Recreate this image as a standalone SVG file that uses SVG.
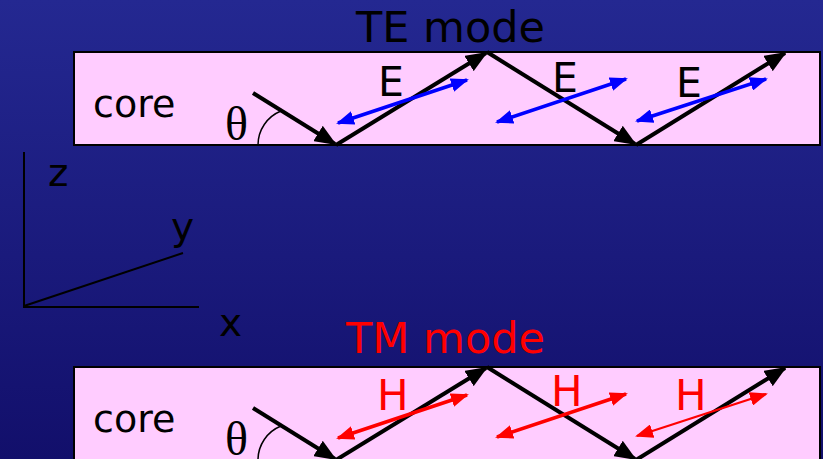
<svg xmlns="http://www.w3.org/2000/svg" width="823" height="459" viewBox="0 0 823 459">
  <defs>
    <linearGradient id="bg" x1="0" y1="0" x2="0" y2="1">
      <stop offset="0" stop-color="#242891"/>
      <stop offset="1" stop-color="#120f6b"/>
    </linearGradient>
    <marker id="ahK" markerUnits="userSpaceOnUse" markerWidth="22" markerHeight="18" viewBox="0 0 22 18" refX="20" refY="9" orient="auto">
      <path d="M0,0 L22,9 L0,18 z" fill="#000"/>
    </marker>
    <marker id="ahB" markerUnits="userSpaceOnUse" markerWidth="18" markerHeight="14" viewBox="0 0 18 14" refX="16" refY="7" orient="auto-start-reverse">
      <path d="M0,0 L18,7 L0,14 z" fill="#0000ff"/>
    </marker>
    <marker id="ahR" markerUnits="userSpaceOnUse" markerWidth="18" markerHeight="14" viewBox="0 0 18 14" refX="16" refY="7" orient="auto-start-reverse">
      <path d="M0,0 L18,7 L0,14 z" fill="#ff0000"/>
    </marker>
  </defs>
  <style>
    .box { fill: #ffccff; stroke: #000; stroke-width: 2; }
    .t { font-family: "DejaVu Sans", Verdana, sans-serif; fill: #000; }
    .ray { stroke: #000; stroke-width: 4; fill: none; marker-end: url(#ahK); }
    .ax { stroke: #000; stroke-width: 2; fill: none; }
    .arc { stroke: #000; stroke-width: 1.5; fill: none; }
    .eb { stroke: #0000ff; stroke-width: 3.5; marker-start: url(#ahB); marker-end: url(#ahB); }
    .hr { stroke: #ff0000; stroke-width: 3.5; marker-start: url(#ahR); marker-end: url(#ahR); }
    .th { font-family: "Liberation Serif", "Times New Roman", serif; font-size: 48px; fill: #000; }
  </style>
  <rect x="0" y="0" width="823" height="459" fill="url(#bg)"/>

  <g id="te-title"><text class="t" x="356" y="42" font-size="43">TE mode</text></g>

  <g id="te-panel">
    <rect class="box" x="74" y="52" width="746" height="93"/>
    <text class="t" x="93" y="117" font-size="38">core</text>
    <text class="th" x="225" y="140">θ</text>
    <path class="arc" d="M258,145 A36.6,36.6 0 0 1 281,111"/>
    <text class="t" x="378" y="96" font-size="41">E</text>
    <text class="t" x="552" y="92" font-size="41">E</text>
    <text class="t" x="676" y="97" font-size="41">E</text>
  </g>

  <g id="connectors-te">
    <line class="ray" x1="253" y1="93" x2="335" y2="144"/>
    <line class="ray" x1="336" y1="145" x2="486" y2="53"/>
    <line class="ray" x1="487" y1="52" x2="635" y2="144"/>
    <line class="ray" x1="636" y1="145" x2="785" y2="53"/>
    <line class="eb" x1="338" y1="123" x2="467" y2="80"/>
    <line class="eb" x1="497" y1="122" x2="626" y2="79"/>
    <line class="eb" x1="637" y1="121" x2="766" y2="79"/>
  </g>

  <g id="axes">
    <path class="ax" d="M24,152 L24,307 L199,307 M24,306 L183,253"/>
    <text class="t" x="48" y="186" font-size="39">z</text>
    <text class="t" x="171" y="240" font-size="39">y</text>
    <text class="t" x="219" y="336" font-size="39">x</text>
  </g>

  <g id="tm-title"><text class="t" x="346" y="353" font-size="43" style="fill:#ff0000">TM mode</text></g>

  <g id="tm-panel">
    <rect class="box" x="74" y="367" width="746" height="120"/>
    <text class="t" x="93" y="432" font-size="38">core</text>
    <text class="th" x="225" y="455">θ</text>
    <path class="arc" d="M258,460 A36.6,36.6 0 0 1 281,426"/>
    <text class="t" x="377" y="410" font-size="42" style="fill:#ff0000">H</text>
    <text class="t" x="551" y="406" font-size="42" style="fill:#ff0000">H</text>
    <text class="t" x="675" y="410" font-size="42" style="fill:#ff0000">H</text>
  </g>

  <g id="connectors-tm">
    <line class="ray" x1="253" y1="408" x2="335" y2="459"/>
    <line class="ray" x1="336" y1="460" x2="486" y2="368"/>
    <line class="ray" x1="487" y1="367" x2="635" y2="459"/>
    <line class="ray" x1="636" y1="460" x2="785" y2="368"/>
    <line class="hr" x1="338" y1="438" x2="467" y2="395"/>
    <line class="hr" x1="497" y1="437" x2="626" y2="394"/>
    <line class="hr" x1="637" y1="436" x2="766" y2="394" style="stroke-width:2.2"/>
  </g>
</svg>
